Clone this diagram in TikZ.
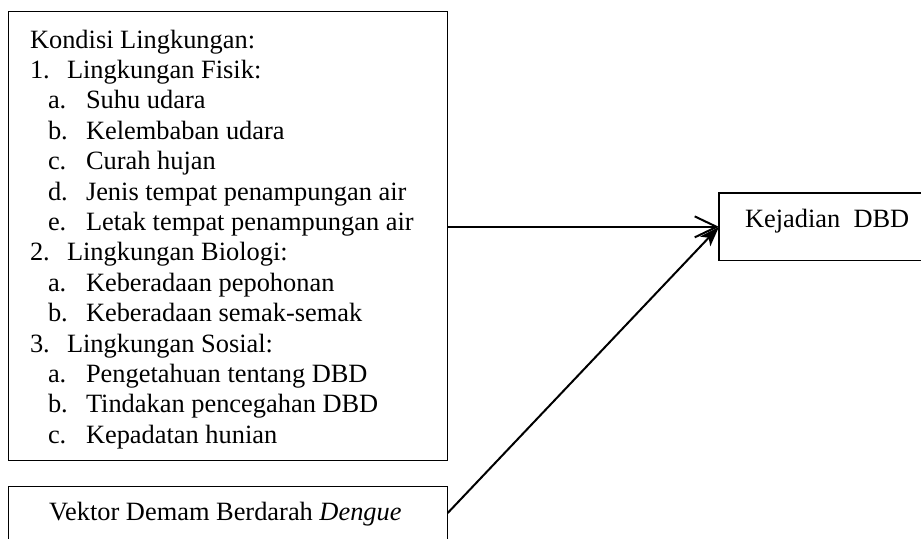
\documentclass[tikz,border=0pt]{standalone}
\usepackage{fontspec}
\setmainfont{Liberation Serif}
\usetikzlibrary{arrows.meta,calc}
\begin{document}
\begin{tikzpicture}[x=0.5pt,y=-0.5pt,
  box/.style={draw=black,line width=0.6pt,inner sep=0pt,outer sep=0pt},
  txt/.style={anchor=base west,inner sep=0pt,outer sep=0pt,font=\fontsize{13.2}{15}\selectfont},
  conn/.style={line width=1pt}]
\useasboundingbox (0,0) rectangle (921,538);
% boxes
\node[box,minimum width=219.7pt,minimum height=224.5pt] (env) at (228,236.35) {};
\node[box,minimum width=219.7pt,minimum height=36.65pt] (vec) at (228,523.35) {};
\node[box,minimum width=110.5pt,minimum height=33.85pt] (kej) at (829.5,226.85) {};
% text in the first box
\node[txt] (h0) at (30,48) {Kondisi Lingkungan:};
\foreach \i/\lx/\tx/\lab/\body in {
  1/30/67/1./Lingkungan Fisik:,
  2/48/86/a./Suhu udara,
  3/48/86/b./Kelembaban udara,
  4/48/86/c./Curah hujan,
  5/48/86/d./Jenis tempat penampungan air,
  6/48/86/e./Letak tempat penampungan air,
  7/30/67/2./Lingkungan Biologi:,
  8/48/86/a./Keberadaan pepohonan,
  9/48/86/b./Keberadaan semak-semak,
  10/30/67/3./Lingkungan Sosial:,
  11/48/86/a./Pengetahuan tentang DBD,
  12/48/86/b./Tindakan pencegahan DBD,
  13/48/86/c./Kepadatan hunian}{
  \node[txt] (m\i) at (\lx,48+30.4*\i) {\lab};
  \node[txt] (t\i) at (\tx,48+30.4*\i) {\body};
}
\node[txt] (vt) at (49,520) {Vektor Demam Berdarah \textit{Dengue}};
\node[txt] (kt) at (745,227) {Kejadian\ \ DBD};
% connectors
\coordinate (vs) at ($(vec.north east)+(0,26.3)$);
\draw[conn,-{Straight Barb[length=11pt,width=10.5pt,line width=1pt]}] (env.east |- kej.west) -- (kej.west);
\draw[conn,-{Stealth[length=10pt,width=7pt,inset=2.5pt]}] (vs) -- (kej.west);
\end{tikzpicture}
\end{document}
